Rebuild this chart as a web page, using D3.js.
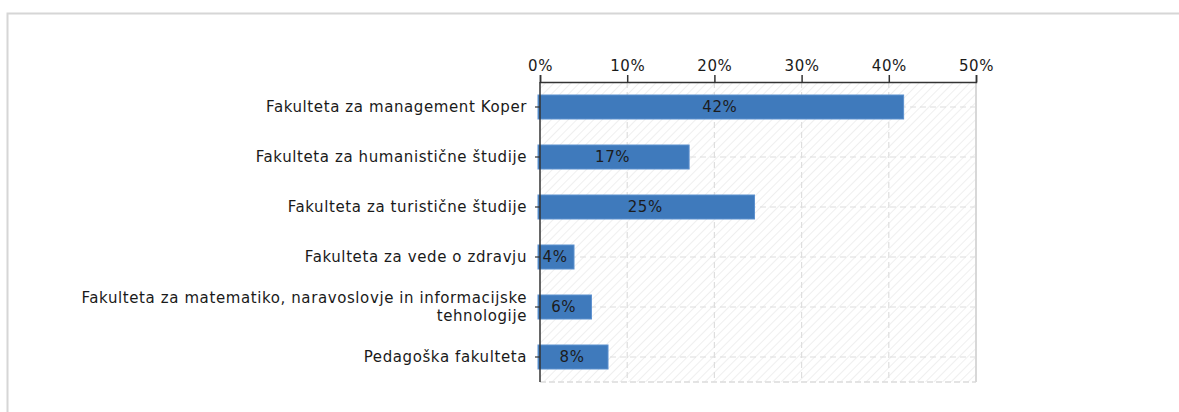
<!DOCTYPE html>
<html>
<head>
<meta charset="utf-8">
<script src="https://cdn.jsdelivr.net/npm/d3@7"></script>
<style>
  html, body { margin: 0; padding: 0; background: #fff; }
  svg { display: block; }
  text { font-family: "DejaVu Sans", Verdana, sans-serif; letter-spacing: 0.6px; }
</style>
</head>
<body>
<svg id="chart" width="1179" height="412"></svg>
<script>
const categories = [
  "Fakulteta za management Koper",
  "Fakulteta za humanistične študije",
  "Fakulteta za turistične študije",
  "Fakulteta za vede o zdravju",
  "Fakulteta za matematiko, naravoslovje in informacijske tehnologije",
  "Pedagoška fakulteta"
];
const values = [41.7, 17.1, 24.6, 3.9, 5.9, 7.8];
const valueLabels = ["42%", "17%", "25%", "4%", "6%", "8%"];
const xTicks = [0, 10, 20, 30, 40, 50];

(function () {
const svg = d3.select("#chart");
const W = 1179, H = 412;
const fontSize = 15;

// outer frame
svg.append("rect")
  .attr("x", 7.5).attr("y", 13.5)
  .attr("width", W + 20).attr("height", H + 20)
  .attr("fill", "none").attr("stroke", "#d6d6d6").attr("stroke-width", 2);

const pLeft = 540, pRight = 976, pTop = 82, pBottom = 382;

const x = d3.scaleLinear().domain([0, 50]).range([pLeft, pRight]);
const y = d3.scaleBand().domain(categories).range([pTop, pBottom]).paddingInner(0.52).paddingOuter(0.26);

// hatch pattern
const defs = svg.append("defs");
const pat = defs.append("pattern")
  .attr("id", "hatch").attr("patternUnits", "userSpaceOnUse")
  .attr("width", 6).attr("height", 6)
  .attr("patternTransform", "rotate(45)");
pat.append("rect").attr("width", 6).attr("height", 6).attr("fill", "#ffffff");
pat.append("line").attr("x1", 0).attr("y1", 0).attr("x2", 0).attr("y2", 6)
  .attr("stroke", "#ececec").attr("stroke-width", 1.6);

svg.append("rect")
  .attr("x", pLeft).attr("y", pTop)
  .attr("width", pRight - pLeft).attr("height", pBottom - pTop)
  .attr("fill", "url(#hatch)");

// vertical grid lines
svg.append("g").selectAll("line")
  .data(xTicks.filter(d => d > 0 && d < 50))
  .join("line")
  .attr("x1", d => x(d)).attr("x2", d => x(d))
  .attr("y1", pTop).attr("y2", pBottom)
  .attr("stroke", "#dedede").attr("stroke-width", 1.2)
  .attr("stroke-dasharray", "6,4");

// horizontal grid lines at category centers
svg.append("g").selectAll("line")
  .data(categories)
  .join("line")
  .attr("x1", pLeft).attr("x2", pRight)
  .attr("y1", d => y(d) + y.bandwidth() / 2).attr("y2", d => y(d) + y.bandwidth() / 2)
  .attr("stroke", "#dedede").attr("stroke-width", 1.2)
  .attr("stroke-dasharray", "6,4");

// bottom dashed line
svg.append("line")
  .attr("x1", pLeft).attr("x2", pRight).attr("y1", pBottom).attr("y2", pBottom)
  .attr("stroke", "#dcdcdc").attr("stroke-width", 1.5).attr("stroke-dasharray", "6,3");

// right border
svg.append("line")
  .attr("x1", pRight).attr("x2", pRight).attr("y1", pTop).attr("y2", pBottom)
  .attr("stroke", "#d8d8d8").attr("stroke-width", 2);

// bars
svg.append("g").selectAll("rect")
  .data(values)
  .join("rect")
  .attr("x", x(0) - 2)
  .attr("y", (d, i) => y(categories[i]))
  .attr("width", d => x(d) - x(0) + 2)
  .attr("height", y.bandwidth())
  .attr("fill", "#3f7abc")
  .attr("stroke", "#5d91cf").attr("stroke-width", 1);

// value labels
svg.append("g").selectAll("text")
  .data(values)
  .join("text")
  .attr("x", d => (x(0) + x(d)) / 2 - 2)
  .attr("y", (d, i) => y(categories[i]) + y.bandwidth() / 2)
  .attr("dy", "0.36em")
  .attr("text-anchor", "middle")
  .attr("font-size", fontSize)
  .attr("fill", "#1c1c1c")
  .text((d, i) => valueLabels[i]);

// top axis
const xAxis = d3.axisTop(x)
  .tickValues(xTicks)
  .tickFormat(d => d + "%")
  .tickSize(7)
  .tickPadding(4);
const gx = svg.append("g").attr("transform", `translate(0,${pTop})`).call(xAxis);
gx.select(".domain").attr("stroke", "#333").attr("stroke-width", 1.5);
gx.selectAll(".tick line").attr("stroke", "#333").attr("stroke-width", 1.5);
gx.selectAll(".tick text")
  .attr("font-size", fontSize).attr("fill", "#1a1a1a")
  .style("font-family", "'DejaVu Sans', Verdana, sans-serif");

// left axis
const yAxis = d3.axisLeft(y).tickSize(5).tickPadding(8);
const gy = svg.append("g").attr("transform", `translate(${pLeft},0)`).call(yAxis);
gy.select(".domain").attr("stroke", "#333").attr("stroke-width", 1.5)
  .attr("d", `M0,${pTop}V${pBottom}`);
gy.selectAll(".tick line").attr("stroke", "#333").attr("stroke-width", 1.2);
gy.selectAll(".tick text")
  .attr("font-size", fontSize).attr("fill", "#1a1a1a")
  .style("font-family", "'DejaVu Sans', Verdana, sans-serif")
  .each(function() { wrap(d3.select(this), 475); });

function wrap(text, width) {
  const words = text.text().split(/\s+/);
  const xPos = text.attr("x");
  text.text(null);
  let line = [];
  let lines = [];
  const tmp = text.append("tspan");
  words.forEach(w => {
    line.push(w);
    tmp.text(line.join(" "));
    if (tmp.node().getComputedTextLength() > width && line.length > 1) {
      line.pop();
      lines.push(line.join(" "));
      line = [w];
    }
  });
  lines.push(line.join(" "));
  tmp.remove();
  const lh = 1.2;
  const startDy = 0.32 - (lines.length - 1) * lh / 2;
  lines.forEach((l, i) => {
    text.append("tspan").attr("x", xPos)
      .attr("dy", (i === 0 ? startDy : lh) + "em")
      .text(l);
  });
}
})();
</script>
</body>
</html>
